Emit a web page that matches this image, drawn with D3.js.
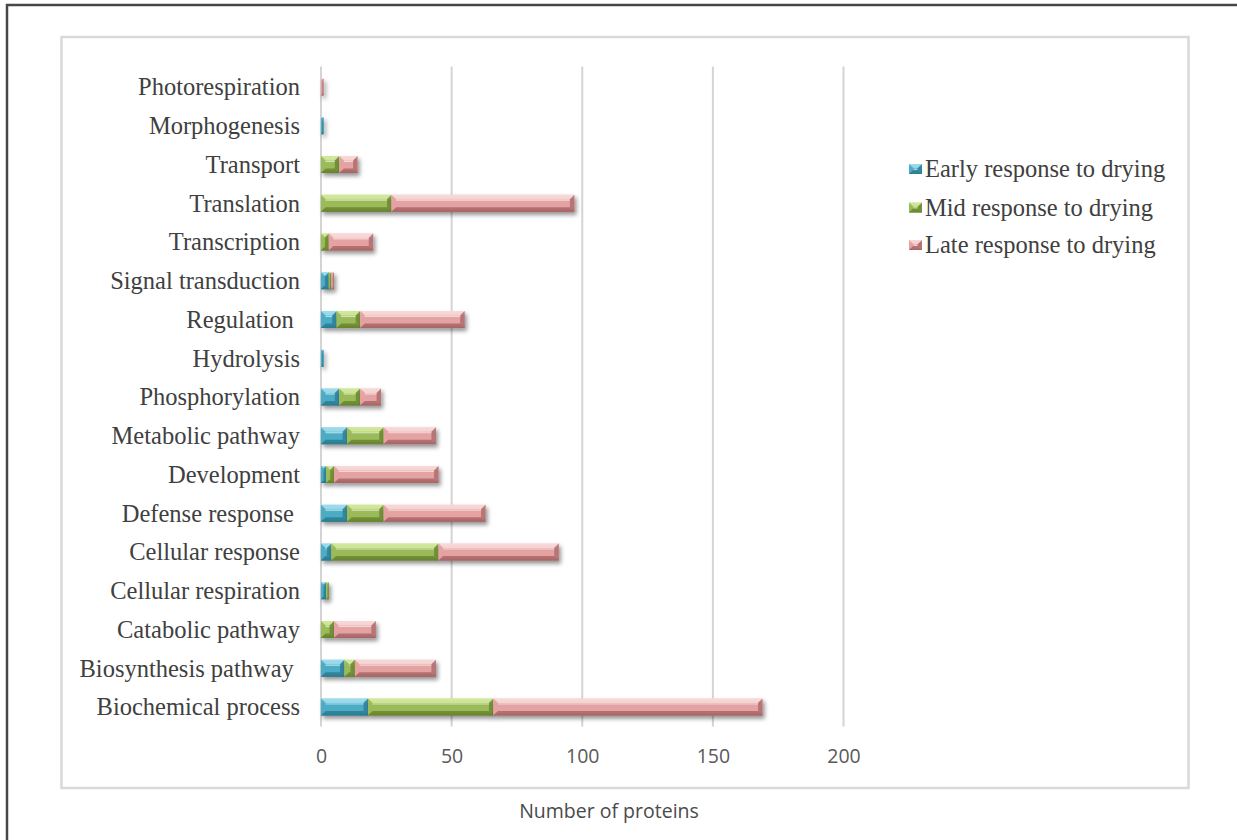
<!DOCTYPE html>
<html>
<head>
<meta charset="utf-8">
<script src="https://cdn.jsdelivr.net/npm/d3@7"></script>
<style>
  html, body { margin: 0; padding: 0; background: #fff; }
  svg { display: block; }
</style>
</head>
<body>
<svg id="chart" width="1237" height="840"></svg>
<script>
// Functional categories, listed from the bottom of the chart upwards
const categories = [
  "Biochemical process", "Biosynthesis pathway ", "Catabolic pathway",
  "Cellular respiration", "Cellular response", "Defense response ",
  "Development", "Metabolic pathway", "Phosphorylation", "Hydrolysis",
  "Regulation ", "Signal transduction", "Transcription", "Translation",
  "Transport", "Morphogenesis", "Photorespiration"
];
const earlyValues = [18, 9, 0, 2, 4, 10, 2, 10, 7, 1, 6, 3, 0, 0, 0, 1, 0];
const midValues   = [48, 4, 5, 1, 41, 14, 3, 14, 8, 0, 9, 1, 3, 27, 7, 0, 0];
const lateValues  = [103, 31, 16, 0, 46, 39, 40, 20, 8, 0, 40, 1, 17, 70, 7, 0, 1];
const seriesNames = ["Early response to drying", "Mid response to drying", "Late response to drying"];
const xTicks = [0, 50, 100, 150, 200];
const axisTitle = "Number of proteins";

const palette = [
  { base: "#4bacc6", light: "#9fdcec", dark: "#2c7a90" },
  { base: "#9bbb59", light: "#d2e89c", dark: "#66832e" },
  { base: "#e4a2a2", light: "#f8d8d8", dark: "#a86464" }
];

const serif = "'Liberation Serif', 'Times New Roman', serif";
const labelSize = 24.5;

const svg = d3.select("#chart");

// Frames
svg.append("rect").attr("x", 7).attr("y", 5).attr("width", 1250).attr("height", 860)
  .attr("fill", "none").attr("stroke", "#474747").attr("stroke-width", 2.5);
svg.append("rect").attr("x", 61.5).attr("y", 37).attr("width", 1127).attr("height", 751)
  .attr("fill", "none").attr("stroke", "#d9d9d9").attr("stroke-width", 2.5);

const defs = svg.append("defs");
const shadow = defs.append("filter").attr("id", "barShadow")
  .attr("x", "-10%").attr("y", "-40%").attr("width", "130%").attr("height", "200%");
shadow.append("feDropShadow").attr("dx", 2).attr("dy", 3).attr("stdDeviation", 2)
  .attr("flood-color", "#000").attr("flood-opacity", 0.42);

palette.forEach((c, i) => {
  const g = defs.append("linearGradient").attr("id", "grad" + i)
    .attr("x1", 0).attr("y1", 0).attr("x2", 0).attr("y2", 1);
  g.append("stop").attr("offset", "0%").attr("stop-color", c.light);
  g.append("stop").attr("offset", "35%").attr("stop-color", c.base);
  g.append("stop").attr("offset", "80%").attr("stop-color", c.base);
  g.append("stop").attr("offset", "100%").attr("stop-color", c.dark);
});

const plotTop = 67.6, plotBottom = 726.4;
const x = d3.scaleLinear().domain([0, 200]).range([321, 843.5]);
const y = d3.scaleBand().domain(categories).range([plotBottom, plotTop])
  .paddingInner(0.56).paddingOuter(0.28);

// Vertical gridlines
svg.append("g").selectAll("line").data(xTicks).join("line")
  .attr("x1", d => x(d)).attr("x2", d => x(d))
  .attr("y1", plotTop - 1).attr("y2", plotBottom)
  .attr("stroke", "#d4d4d4").attr("stroke-width", 2);

// X axis tick labels
const xAxis = d3.axisBottom(x).tickValues(xTicks).tickSize(0).tickPadding(0);
const xg = svg.append("g").attr("transform", `translate(0,${plotBottom + 22})`).call(xAxis);
xg.select(".domain").remove();
xg.selectAll("text").attr("font-family", "'Open Sans', sans-serif").attr("font-size", 19.5)
  .attr("fill", "#595959").attr("dy", "0.32em").attr("y", 8);

// Y category labels
const yAxis = d3.axisLeft(y).tickSize(0).tickPadding(0);
const yg = svg.append("g").attr("transform", "translate(300,0)").call(yAxis);
yg.select(".domain").remove();
yg.selectAll("text").attr("font-family", serif)
  .attr("font-size", labelSize).attr("fill", "#404040").attr("dy", "0.34em")
  .style("white-space", "pre");

// Stacked bars
const rows = categories.map((c, i) => ({ cat: c, early: earlyValues[i], mid: midValues[i], late: lateValues[i] }));
const stack = d3.stack().keys(["early", "mid", "late"]);
const layers = stack(rows);

function drawSegment(g, x0, x1, y0, h, c, idx) {
  const w = x1 - x0;
  if (w <= 0) return;
  const y1 = y0 + h;
  const b = Math.min(4.5, w / 2);
  g.append("rect").attr("x", x0).attr("y", y0).attr("width", w).attr("height", h)
    .attr("fill", `url(#grad${idx})`);
  // top bevel facet
  g.append("polygon").attr("points", [[x0, y0], [x1, y0], [x1 - b, y0 + b], [x0 + b, y0 + b]].join(" "))
    .attr("fill", c.light).attr("opacity", 0.85);
  // left bevel facet
  g.append("polygon").attr("points", [[x0, y0], [x0 + b, y0 + b], [x0 + b, y1 - b], [x0, y1]].join(" "))
    .attr("fill", c.base).attr("opacity", 0.9);
  // right bevel facet
  g.append("polygon").attr("points", [[x1, y0], [x1 - b, y0 + b], [x1 - b, y1 - b], [x1, y1]].join(" "))
    .attr("fill", c.dark).attr("opacity", 0.75);
  // bottom bevel facet
  g.append("polygon").attr("points", [[x0, y1], [x1, y1], [x1 - b, y1 - b], [x0 + b, y1 - b]].join(" "))
    .attr("fill", c.dark).attr("opacity", 0.8);
  // thin highlight line along the top
  g.append("line").attr("x1", x0 + b).attr("x2", x1 - b).attr("y1", y0 + b + 1).attr("y2", y0 + b + 1)
    .attr("stroke", "#fff").attr("stroke-opacity", 0.55).attr("stroke-width", 1.2);
}

const barsG = svg.append("g");
layers.forEach((layer, li) => {
  const lg = barsG.append("g").attr("filter", "url(#barShadow)");
  layer.forEach(d => {
    const g = lg.append("g");
    drawSegment(g, x(d[0]), x(d[1]), y(d.data.cat), y.bandwidth(), palette[li], li);
  });
});

// Legend
const legend = svg.append("g");
const legendY = [169, 207.5, 245];
seriesNames.forEach((name, i) => {
  const g = legend.append("g").attr("transform", `translate(909,${legendY[i]})`);
  drawSegment(g, 0, 13, -5, 10, palette[i], i);
  g.append("text").attr("x", 16).attr("y", 0).attr("dy", "0.34em")
    .attr("font-family", serif)
    .attr("font-size", labelSize).attr("fill", "#404040").text(name);
});

// Axis title
svg.append("text").attr("x", 609).attr("y", 811).attr("dy", "0.35em").attr("text-anchor", "middle")
  .attr("font-family", "'Open Sans', sans-serif").attr("font-size", 19.5).attr("fill", "#4a4a4a")
  .text(axisTitle);
</script>
</body>
</html>
